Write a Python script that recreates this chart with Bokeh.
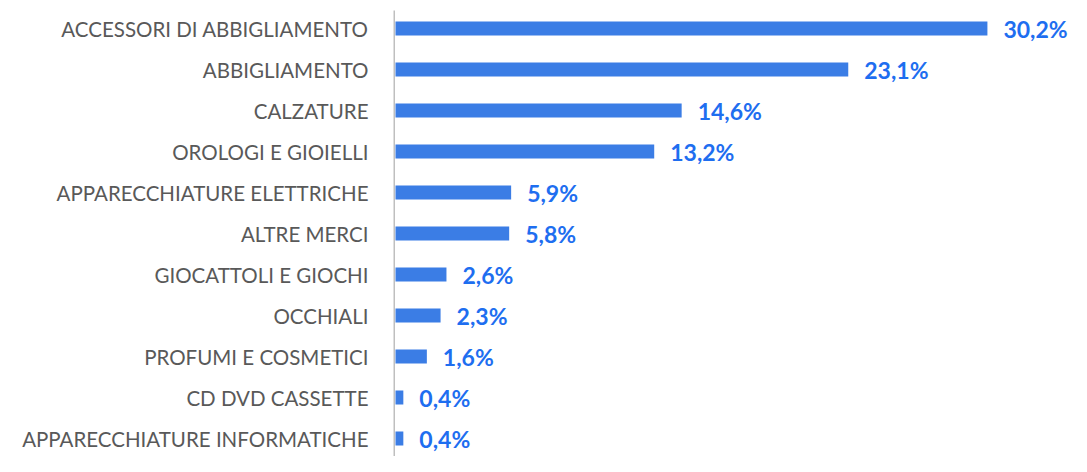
from bokeh.plotting import figure
from bokeh.models import ColumnDataSource, Range1d, FixedTicker
from bokeh.embed import file_html
from bokeh.resources import INLINE
from bokeh.core.properties import value

categories = [
    "ACCESSORI DI ABBIGLIAMENTO",
    "ABBIGLIAMENTO",
    "CALZATURE",
    "OROLOGI E GIOIELLI",
    "APPARECCHIATURE ELETTRICHE",
    "ALTRE MERCI",
    "GIOCATTOLI E GIOCHI",
    "OCCHIALI",
    "PROFUMI E COSMETICI",
    "CD DVD CASSETTE",
    "APPARECCHIATURE INFORMATICHE",
]
shares = [30.2, 23.1, 14.6, 13.2, 5.9, 5.8, 2.6, 2.3, 1.6, 0.4, 0.4]
share_labels = ["30,2%", "23,1%", "14,6%", "13,2%", "5,9%", "5,8%", "2,6%", "2,3%", "1,6%", "0,4%", "0,4%"]

idx = list(range(len(categories)))
src = ColumnDataSource(dict(y=idx, v=shares, lab=share_labels))

x0, x1 = -0.102, 34.49
y_top, y_bot = -0.683, 10.439

p = figure(width=1071, height=456, output_backend="svg", toolbar_location=None,
           x_range=Range1d(x0, x1), y_range=Range1d(y_bot, y_top),
           min_border_left=393, min_border_right=0, min_border_top=0, min_border_bottom=0)
p.outline_line_color = None
p.xgrid.visible = False
p.ygrid.visible = False
p.xaxis.visible = False

# vertical axis line (starts a little below the top)
p.segment(x0=[x0], y0=[y_top + 10 / 41], x1=[x0], y1=[y_bot],
          line_color="#BFBFBF", line_width=3)

p.hbar(y="y", left=0, right="v", height=0.341, source=src,
       fill_color="#3B7DE5", line_color=None)
p.text(x="v", y="y", text="lab", source=src, x_offset=16,
       text_baseline="middle", text_align="left",
       text_font=value("Lato"), text_font_style="bold", text_font_size="23px",
       text_color="#1E6EF0")

ya = p.yaxis[0]
ya.ticker = FixedTicker(ticks=idx)
ya.major_label_overrides = {i: c for i, c in enumerate(categories)}
ya.major_tick_out = 0
ya.major_tick_in = 0
ya.minor_tick_out = 0
ya.minor_tick_in = 0
ya.axis_line_color = None
ya.major_label_standoff = 25
ya.major_label_text_font = "Lato"
ya.major_label_text_font_size = "20.5px"
ya.major_label_text_color = "#595959"

open("out.html", "w").write(file_html(p, INLINE))
